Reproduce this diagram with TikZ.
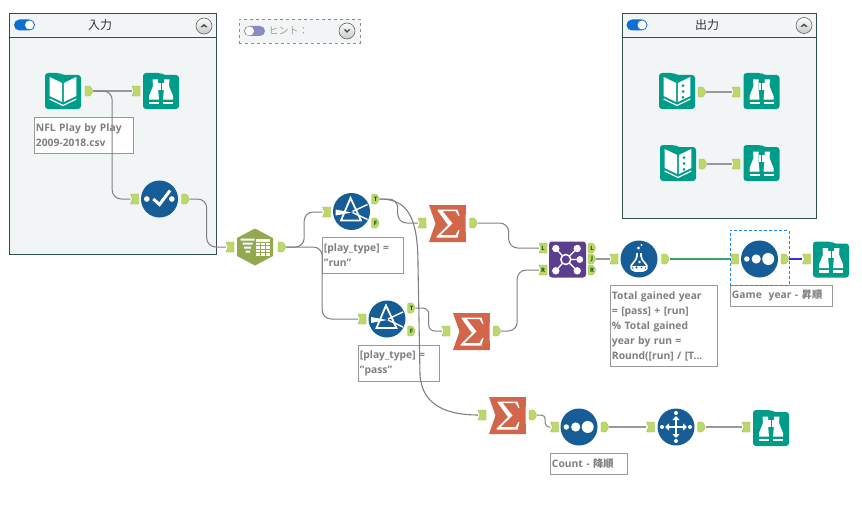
\documentclass[tikz,border=0pt]{standalone}
\usepackage{fontspec}
\setmainfont{Open Sans}
\newfontfamily\jp{Noto Sans CJK JP}
\usetikzlibrary{arrows.meta,calc,shapes.geometric}
\definecolor{teal1}{HTML}{009C8A}
\definecolor{blue1}{HTML}{165C96}
\definecolor{sumc}{HTML}{D2664A}
\definecolor{hexc}{HTML}{93A84F}
\definecolor{joinc}{HTML}{5C3E8E}
\definecolor{portc}{HTML}{BBD869}
\definecolor{boxc}{HTML}{F1F5F6}
\definecolor{frame}{HTML}{2F4F4F}
\definecolor{lab}{HTML}{7F7F7F}
\definecolor{togglec}{HTML}{0D6FD6}
\definecolor{selc}{HTML}{1E88E5}
\definecolor{wiregreen}{HTML}{3BA55F}
\definecolor{wireblue}{HTML}{3333DD}
\tikzset{
  container/.style={draw=frame,fill=boxc,line width=0.9pt},
  labbox/.style={draw=black!40,fill=white,line width=0.9pt,anchor=north west,inner xsep=1.5pt,inner ysep=0pt,align=left,
     text=lab,font=\fontsize{10.3}{15}\selectfont\bfseries},
  wire/.style={draw=black!50,line width=1pt},
  wirethick/.style={draw=black!40,line width=1.8pt},
  portnode/.style={inner sep=0pt,minimum width=8pt,minimum height=10pt,text=black!70!green,font=\fontsize{6}{6}\selectfont\bfseries},
  bookicon/.pic={
    \fill[teal1,rounded corners=3pt] (-18,-18)--(-3,-18)--(-1,-16)--(18,-16)--(18,18)--(-18,18)--cycle;
    \fill[white] (-13.3,-14)--(-0.8,-8)--(-0.8,11)--(-13.3,5)--cycle;
    \fill[white] (13.3,-14)--(0.8,-8)--(0.8,11)--(13.3,5)--cycle;
    \draw[white,line width=1.2pt] (-13.3,8)--(0,14.5)--(13.3,8);
  },
  outbookicon/.pic={
    \pic {bookicon};
    \fill[teal1] (6,-5.3) circle (1.5) (6,0.5) circle (1.5) (6,6.3) circle (1.5);
  },
  browseicon/.pic={
    \fill[teal1,rounded corners=3pt] (-18,-18)--(0,-18)--(2,-16)--(18,-16)--(18,18)--(-18,18)--cycle;
    \foreach \s in {-1,1}{
      \fill[white] (\s*8.5,-11.5)--(\s*3,-11.5)--(\s*3,-3)--(\s*2,8.5)--(\s*12,8.5)--(\s*12,5)--(\s*8,-5)--cycle;
      \fill[white] (\s*2,10.5) rectangle (\s*12,13);
      \fill[white] (\s*0.5,-8.5) rectangle (\s*3,-1.5);
    }
  },
  checkicon/.pic={
    \fill[blue1] (0,0) circle (18.5);
    \fill[white] (-12.7,0) circle (2.8) (12.3,0) circle (2.8);
    \draw[white,line width=3pt] (-6.2,0)--(0,5.5)--(10.5,-8.5);
  },
  sorticon/.pic={
    \fill[blue1] (0,0) circle (18.5);
    \fill[white] (-12.7,0) circle (2.7) (-3.3,0) circle (4.6) (8.7,0) circle (6);
  },
  selecticon/.pic={
    \fill[blue1] (0,0) circle (18.5);
    \fill[white] (-14,0) circle (2) (14,0) circle (2) (0,-14) circle (2) (0,14) circle (2);
    \draw[white,line width=1.8pt,{Triangle[length=4pt,width=7pt]}-{Triangle[length=4pt,width=7pt]}] (-11,0)--(11,0);
    \draw[white,line width=1.8pt,{Triangle[length=4pt,width=7pt]}-{Triangle[length=4pt,width=7pt]}] (0,-11)--(0,11);
  },
  formulaicon/.pic={
    \fill[blue1] (0,0) circle (18.5);
    \draw[white,line width=1.6pt,line join=round,rounded corners=2pt] (-2,-6)--(-2,-1)--(-9,8)--(-6,12)--(6,12)--(9,8)--(2,-1)--(2,-6);
    \fill[white] (-7,7) -- (7,7) -- (5,11) -- (-5,11) -- cycle;
    \fill[white] (-0.5,-11) circle (1.6) (2.5,-14) circle (1.1) (0.5,3) circle (1.4);
    \fill[blue1] (-2.5,8.5) circle (1.1) (2.5,8.5) circle (0.9);
  },
  filtericon/.pic={
    \fill[blue1] (0,0) circle (18.5);
    \draw[white,line width=1.8pt] (-1,-13.5)--(-10.5,9)--(9.5,9)--cycle;
    \fill[white] (-16,-2)--(-16,4)--(0,1)--cycle;
    \draw[white,line width=1.4pt] (1,0)--(16,-7);
    \draw[white,line width=1.4pt] (1,1)--(16,8);
  },
  sumicon/.pic={
    \fill[sumc] (-18.5,-18.5)--(18.5,-18.5)--(18,0)--(18.5,18.5)--(-18.5,18.5)--(-12,0)--cycle;
    \fill[white] (-10,-14)--(10,-14)--(12,-7.5)--(11,-7.5)--(8,-12.5)--(-5,-12.5)--(5,0)--(-7,11.5)--(8,11.5)--(11,6.5)--(12,6.5)--(10,14)--(-11,14)--(-11,13)--(0.5,1.5)--(-10,-13)--cycle;
  },
  hexicon/.pic={
    \fill[hexc] (0,-18.5)--(18,-9)--(18,9)--(0,18.5)--(-18,9)--(-18,-9)--cycle;
    \fill[white] (-14.5,-8.5) rectangle (-0.5,-6.5) (-12.5,-4.5) rectangle (-2.5,-2.5) (-11,-0.5) rectangle (-4,1.5) (-9.5,3.5) rectangle (-5,5.5);
    \fill[white] (1,-8.5) rectangle (15,8.5);
    \draw[hexc,line width=0.7pt] (1,-5)--(15,-5) (1,-1.5)--(15,-1.5) (1,2)--(15,2) (1,5.5)--(15,5.5) (5.5,-5)--(5.5,8.5) (10,-5)--(10,8.5);
  },
  joinicon/.pic={
    \fill[joinc,rounded corners=3pt] (-18.5,-18)rectangle(18.5,18);
    \draw[white,line width=1.3pt] (-1.7,0)--(-11.7,-11) (-1.7,0)--(-11.7,11.3) (-1.7,0)--(9.7,-11) (-1.7,0)--(9.7,11.3) (-1.7,0)--(12.3,0);
    \fill[joinc] (-1.7,0) circle (5);
    \draw[white,line width=1.5pt] (-1.7,0) circle (5);
    \fill[white] (-11.7,-11) circle (3.7) (9.7,-11) circle (3.7) (-11.7,11.3) circle (3.7) (9.7,11.3) circle (3.7) (12.3,0) circle (3.4);
  },
  ontoggle/.pic={
    \fill[togglec,rounded corners=5.5pt] (-10.5,-5.5) rectangle (10.5,5.5);
    \fill[white] (5,0) circle (4.5);
  },
  offtoggle/.pic={
    \fill[blue!30!gray!70,rounded corners=5pt] (-10.5,-5) rectangle (10.5,5);
    \fill[white] (-5,0) circle (4.5);
  },
  upbtn/.pic={
    \shade[top color=white,bottom color=black!22,draw=black!60,line width=0.6pt] (0,0) circle (8);
    \fill[black!70] (-3.5,1)--(0,-2)--(3.5,1)--(2,1.5)--(0,0)--(-2,1.5)--cycle;
  },
  downbtn/.pic={
    \shade[top color=white,bottom color=black!22,draw=black!60,line width=0.6pt] (0,0) circle (8);
    \fill[black!70] (-3.5,-1.5)--(0,1.8)--(3.5,-1.5)--(1.5,-1.5)--(0,0)--(-1.5,-1.5)--cycle;
  },
}
% ports: name, x-centre, y-centre, optional letter
\newcommand\outp[4][]{%
  \fill[portc,draw=portc!85!black,line width=0.3pt,rounded corners=1pt] (#3-4,#4-5)--(#3+1,#4-5)--(#3+4,#4)--(#3+1,#4+5)--(#3-4,#4+5)--cycle;
  \node[portnode] (#2) at (#3,#4) {#1};}
\newcommand\inp[4][]{%
  \fill[portc,draw=portc!85!black,line width=0.3pt] (#3-4,#4-5)--(#3+4,#4-5)--(#3+4,#4+5)--(#3-4,#4+5)--(#3-2,#4)--cycle;
  \node[portnode] (#2) at (#3,#4) {#1};}
\newcommand\bentwire[4][wire]{% style, from, to, horizontal run
  \draw[#1,rounded corners=9pt] (#2.east) -- ++(#4,0) |- (#3.west);}
\begin{document}
\begin{tikzpicture}[x=1pt,y=-1pt]
\useasboundingbox (0,0) rectangle (862,519);
\fill[white] (0,0) rectangle (862,519);
% containers
\node[container,minimum width=207pt,minimum height=241pt,inner sep=0pt,anchor=north west] (inbox) at (9,13) {};
\draw[frame,line width=0.9pt] (9,37)--(216,37);
\node[font=\jp\fontsize{12}{14}\selectfont,text=black!80,inner sep=0pt] (intitle) at (100,25) {入力};
\pic at (24.5,25) {ontoggle};
\pic at (204,26) {upbtn};
\node[container,minimum width=194pt,minimum height=205pt,inner sep=0pt,anchor=north west] (outbox) at (622,13) {};
\draw[frame,line width=0.9pt] (622,37)--(816,37);
\node[font=\jp\fontsize{12}{14}\selectfont,text=black!80,inner sep=0pt] (outtitle) at (707,24.5) {出力};
\pic at (637,25) {ontoggle};
\pic at (804,25.5) {upbtn};
% hint
\node[draw=black!45,dashed,fill=boxc,line width=0.7pt,minimum width=121pt,minimum height=24pt,inner sep=0pt,anchor=north west] (hintbox) at (239,19) {};
\pic at (254.5,31) {offtoggle};
\pic at (347,31) {downbtn};
\node[font=\jp\fontsize{10}{11}\selectfont,text=black!38,inner sep=0pt,anchor=west] (hinttext) at (268.5,31) {ヒント：};
% labels
\node[labbox,text width=95.5pt,minimum height=36pt] (lbook) at (34,117) {NFL Play by Play\\2009-2018.csv};
\node[labbox,text width=77.5pt,minimum height=36pt] (lf1) at (322,237) {[play\_type] =\\"run"};
\node[labbox,text width=77.5pt,minimum height=36pt] (lf2) at (358,345) {[play\_type] =\\"pass"};
\node[labbox,text width=103.5pt,minimum height=81pt] (lform) at (610,285) {Total gained year\\= [pass] + [run]\\\% Total gained\\year by run =\\Round([run] / [T...};
\node[labbox,text width=98.5pt,minimum height=21pt] (lsort) at (730,285) {Game\ \ year - {\jp 昇順}};
\node[labbox,text width=73.5pt,minimum height=21pt] (lcount) at (550,453) {Count - {\jp 降順}};
\node[draw=selc,densely dashed,line width=0.6pt,minimum width=58.5pt,minimum height=55pt,inner sep=0pt,anchor=north west] (selbox) at (730,230) {};
% icons
\pic at (63,91) {bookicon};
\pic at (161,91) {browseicon};
\pic at (159.5,199) {checkicon};
\pic at (255,247) {hexicon};
\pic at (351.5,211.5) {filtericon};
\pic at (387,319) {filtericon};
\pic at (447.5,223.5) {sumicon};
\pic at (471.5,331.5) {sumicon};
\pic at (507.5,415.5) {sumicon};
\pic at (567.5,259.5) {joinicon};
\pic at (639,259) {formulaicon};
\pic at (759.5,259) {sorticon};
\pic at (831,259.5) {browseicon};
\pic at (677,91) {outbookicon};
\pic at (761.5,91) {browseicon};
\pic at (678,163) {outbookicon};
\pic at (761.5,163) {browseicon};
\pic at (579,427) {sorticon};
\pic at (676,427) {selecticon};
\pic at (771,428) {browseicon};
% ports
\outp{bookout}{89}{91}
\inp{browsein}{136}{91}
\inp{checkin}{134.5}{199}
\outp{checkout}{185.5}{199}
\inp{hexin}{230}{247}
\outp{hexout}{282}{247}
\inp{fonein}{326.5}{212}
\outp[T]{fonet}{375.5}{199}
\outp[F]{fonef}{375.5}{223}
\inp{ftwoin}{362}{319}
\outp[T]{ftwot}{411.5}{308}
\outp[F]{ftwof}{411.5}{331}
\inp{sumonein}{422}{223}
\outp{sumoneout}{473.5}{223}
\inp{sumtwoin}{446}{331}
\outp{sumtwoout}{497}{331}
\inp{sumthreein}{482}{415}
\outp{sumthreeout}{533}{415}
\inp[L]{joinl}{543}{248}
\inp[R]{joinr}{543}{270}
\outp[L]{joinol}{592}{248}
\outp[J]{joinoj}{592}{259}
\outp[R]{joinor}{592}{270}
\inp{formin}{614}{259}
\outp{formout}{665.5}{259}
\inp{sortin}{734.5}{259}
\outp{sortout}{785}{259}
\inp{brcin}{806.5}{259}
\outp{obkaout}{702}{92}
\inp{obain}{736}{92}
\outp{obkbout}{703}{164}
\inp{obbin}{736}{164}
\inp{stwoin}{554.5}{427}
\outp{stwoout}{605}{427}
\inp{selin}{650.5}{427}
\outp{selout}{701.5}{427}
\inp{brdin}{746}{427}
% wires
\draw[wirethick] (bookout.east)--(browsein.west);
\bentwire{bookout}{checkin}{19}
\bentwire{checkout}{hexin}{17}
\bentwire{hexout}{fonein}{18}
\bentwire{hexout}{ftwoin}{36}
\bentwire{fonet}{sumonein}{18}
\draw[wire,rounded corners=6pt] (ftwot.east) -- ++(13,0) |- (sumtwoin.west);
\bentwire{sumoneout}{joinl}{31}
\bentwire{sumtwoout}{joinr}{16}
\draw[wire,rounded corners=4pt] (sumthreeout.east) -- ++(8,0) |- (stwoin.west);
\coordinate (bendtop) at (418,265);
\coordinate (bendlow) at (420,375);
\draw[wire,line width=1.1pt] (fonet.east) .. controls +(28,0) and +(0,-48) .. (bendtop) -- (bendlow) .. controls +(2,32) and +(-28,0) .. (sumthreein.west);
\draw[wirethick] (joinoj.east)--(formin.west);
\draw[draw=wiregreen,line width=1.8pt] (formout.east)--(sortin.west);
\draw[draw=wireblue,line width=1.8pt] (sortout.east)--(brcin.west);
\draw[wirethick] (obkaout.east)--(obain.west);
\draw[wirethick] (obkbout.east)--(obbin.west);
\draw[wirethick] (stwoout.east)--(selin.west);
\draw[wirethick] (selout.east)--(brdin.west);
\end{tikzpicture}
\end{document}
